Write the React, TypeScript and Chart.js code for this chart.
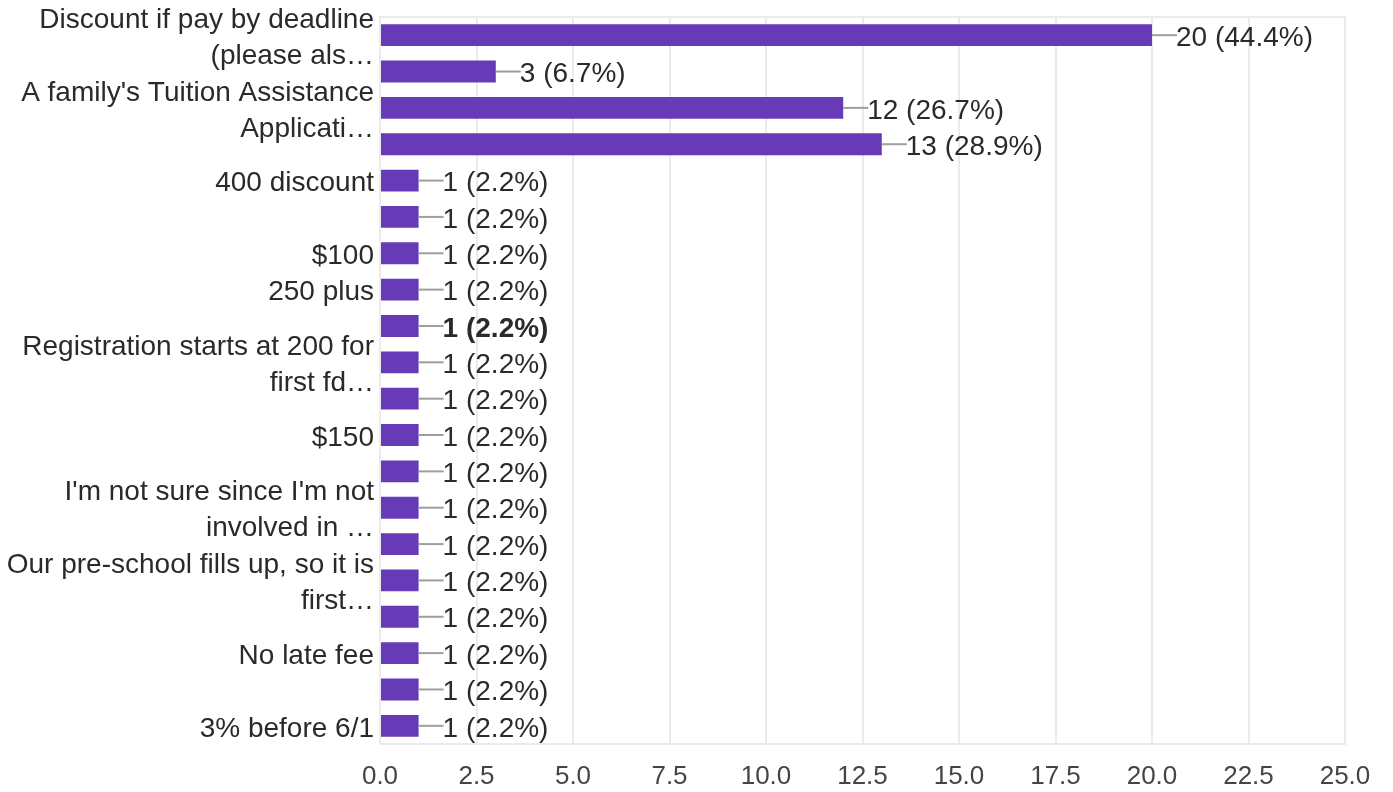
import React, { useEffect, useRef } from "react";
import { Chart, registerables } from "chart.js";

Chart.register(...registerables);

const categories: (string | string[])[] = [
  ["Discount if pay by deadline", "(please als…"],
  "",
  ["A family's Tuition Assistance", "Applicati…"],
  "",
  "400 discount",
  "",
  "$100",
  "250 plus",
  "",
  ["Registration starts at 200 for", "first fd…"],
  "",
  "$150",
  "",
  ["I'm not sure since I'm not", "involved in …"],
  "",
  ["Our pre-school fills up, so it is", "first…"],
  "",
  "No late fee",
  "",
  "3% before 6/1",
];

const counts: number[] = [20, 3, 12, 13, 1, 1, 1, 1, 1, 1, 1, 1, 1, 1, 1, 1, 1, 1, 1, 1];
const totalResponses = 45;
const xTicks: number[] = [0, 2.5, 5, 7.5, 10, 12.5, 15, 17.5, 20, 22.5, 25];
const boldLabelIndex = 8;

const FONT = "'Liberation Sans', Arial, sans-serif";
const LABEL_SIZE = 28;

const valueLabelPlugin = {
  id: "valueLabels",
  afterDatasetsDraw(chart: any) {
    const ctx = chart.ctx;
    const meta = chart.getDatasetMeta(0);
    ctx.save();
    meta.data.forEach((bar: any, i: number) => {
      const v = counts[i];
      const pct = ((v / totalResponses) * 100).toFixed(1);
      const x = bar.x;
      const y = bar.y;
      ctx.strokeStyle = "#9e9e9e";
      ctx.lineWidth = 2;
      ctx.beginPath();
      ctx.moveTo(x, y);
      ctx.lineTo(x + 25, y);
      ctx.stroke();
      ctx.fillStyle = "#2a2a2a";
      ctx.font = `${i === boldLabelIndex ? "bold " : ""}${LABEL_SIZE}px ${FONT}`;
      ctx.textAlign = "left";
      ctx.textBaseline = "middle";
      ctx.fillText(`${v} (${pct}%)`, x + 24, y + 3);
    });
    ctx.restore();
  },
};

const framePlugin = {
  id: "frame",
  beforeDatasetsDraw(chart: any) {
    const { ctx, chartArea } = chart;
    ctx.save();
    ctx.strokeStyle = "#ebebeb";
    ctx.lineWidth = 2;
    ctx.strokeRect(chartArea.left, chartArea.top, chartArea.right - chartArea.left, chartArea.bottom - chartArea.top);
    ctx.restore();
  },
};

export default function App() {
  const ref = useRef<HTMLCanvasElement | null>(null);
  useEffect(() => {
    if (!ref.current) return;
    const chart = new Chart(ref.current, {
      type: "bar",
      data: {
        labels: categories,
        datasets: [
          {
            data: counts,
            backgroundColor: "#673ab7",
            borderWidth: 0,
            categoryPercentage: 1,
            barPercentage: 0.6,
          },
        ],
      },
      options: {
        indexAxis: "y",
        animation: false,
        responsive: false,
        maintainAspectRatio: false,
        layout: { padding: { top: 17, right: 48, left: 0, bottom: 0 } },
        plugins: { legend: { display: false }, tooltip: { enabled: false } },
        scales: {
          x: {
            min: 0,
            max: 25,
            afterBuildTicks(scale: any) {
              scale.ticks = xTicks.map((v) => ({ value: v }));
            },
            afterFit(scale: any) {
              scale.height = 48;
              scale.paddingLeft = 0;
              scale.paddingRight = 0;
            },
            grid: { color: "#ebebeb", lineWidth: 2, drawTicks: false },
            border: { display: false },
            ticks: {
              padding: 17,
              color: "#444444",
              font: { family: FONT, size: 26 },
              maxRotation: 0,
              callback: (v: any) => Number(v).toFixed(1),
            },
          },
          y: {
            afterFit(scale: any) {
              scale.width = 380;
              scale.paddingTop = 0;
              scale.paddingBottom = 0;
            },
            grid: { display: false, drawTicks: false },
            border: { display: true, color: "#333333", width: 2 },
            ticks: {
              autoSkip: false,
              padding: 6,
              labelOffset: 3,
              color: "#2a2a2a",
              font: { family: FONT, size: LABEL_SIZE, lineHeight: 36 / LABEL_SIZE },
            },
          },
        },
      },
      plugins: [framePlugin, valueLabelPlugin],
    });
    return () => chart.destroy();
  }, []);
  return (
    <div style={{ position: "fixed", left: 0, top: 0, width: 1393, height: 792, background: "#fff" }}>
      <canvas ref={ref} width={1393} height={792} style={{ display: "block" }} />
    </div>
  );
}
